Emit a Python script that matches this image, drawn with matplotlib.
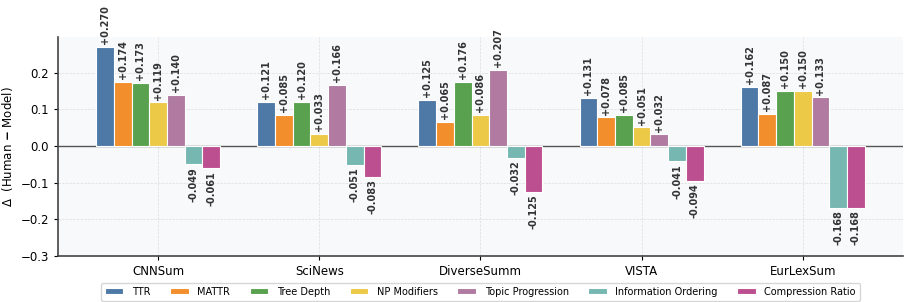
import numpy as np
import matplotlib.pyplot as plt

datasets = ["CNNSum", "SciNews", "DiverseSumm", "VISTA", "EurLexSum"]
metrics = ["TTR", "MATTR", "Tree Depth", "NP Modifiers", "Topic Progression",
           "Information Ordering", "Compression Ratio"]
colors = ["#4e79a7", "#f28e2b", "#59a14f", "#edc948", "#b07aa1", "#76b7b2", "#bc4f8f"]

ttr = [0.270, 0.121, 0.125, 0.131, 0.162]
mattr = [0.174, 0.085, 0.065, 0.078, 0.087]
tree_depth = [0.173, 0.120, 0.176, 0.085, 0.150]
np_mod = [0.119, 0.033, 0.086, 0.051, 0.150]
topic_prog = [0.140, 0.166, 0.207, 0.032, 0.133]
info_order = [-0.049, -0.051, -0.032, -0.041, -0.168]
comp_ratio = [-0.061, -0.083, -0.125, -0.094, -0.168]
series = [ttr, mattr, tree_depth, np_mod, topic_prog, info_order, comp_ratio]

fig = plt.figure(figsize=(9.09, 3.02), dpi=100)
ax = fig.add_axes([0.064, 0.152, 0.929, 0.725])
ax.set_facecolor("#f8f9fb")

x = np.arange(len(datasets))
w = 0.11
for i, (m, vals, c) in enumerate(zip(metrics, series, colors)):
    pos = x + (i - 3) * w
    bars = ax.bar(pos, vals, width=w, color=c, edgecolor="white", linewidth=0.8,
                  label=m, zorder=3)
    for b, v in zip(bars, vals):
        if v >= 0:
            ax.annotate(f"{v:+.3f}", (b.get_x() + b.get_width() / 2, v),
                        xytext=(0, 2), textcoords="offset points", ha="center",
                        va="bottom", rotation=90, fontsize=7, fontweight="bold",
                        color="#333333")
        else:
            ax.annotate(f"{v:.3f}", (b.get_x() + b.get_width() / 2, v),
                        xytext=(0, -2), textcoords="offset points", ha="center",
                        va="top", rotation=90, fontsize=7, fontweight="bold",
                        color="#333333")

ax.axhline(0, color="#555555", linewidth=1.0, zorder=2)
ax.set_xlim(-0.62, 4.62)
ax.set_ylim(-0.3, 0.297)
ax.set_yticks([-0.3, -0.2, -0.1, 0.0, 0.1, 0.2])
ax.set_xticks(x)
ax.set_xticklabels(datasets, fontsize=8.5)
ax.tick_params(axis="y", labelsize=8.5, length=3)
ax.tick_params(axis="x", length=3)
ax.set_ylabel("Δ  (Human $\\mathbf{-}$ Model)", fontsize=8.5)
ax.grid(True, linestyle="--", linewidth=0.5, color="#dddddd", zorder=0)
for s in ["top", "right"]:
    ax.spines[s].set_visible(False)
for s in ["left", "bottom"]:
    ax.spines[s].set_color("#444444")
    ax.spines[s].set_linewidth(1.2)

ax.legend(loc="upper center", bbox_to_anchor=(0.5, -0.1), ncol=7, fontsize=7,
          frameon=True, edgecolor="#cccccc", handlelength=1.9, columnspacing=2.0,
          handletextpad=0.9, handleheight=0.6, borderpad=0.4)

fig.savefig("out.png", dpi=100)
